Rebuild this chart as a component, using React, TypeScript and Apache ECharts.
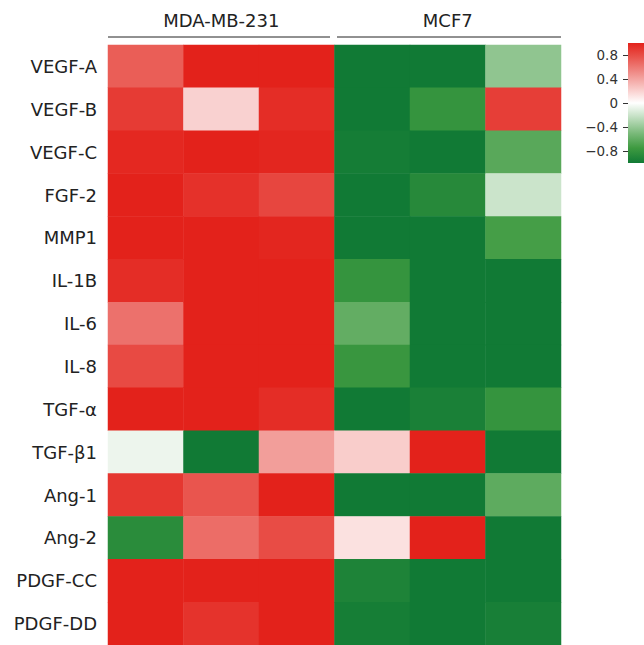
import React, { useEffect, useRef } from "react";
import * as echarts from "echarts";

const genes = ["VEGF-A", "VEGF-B", "VEGF-C", "FGF-2", "MMP1", "IL-1B", "IL-6", "IL-8", "TGF-α", "TGF-β1", "Ang-1", "Ang-2", "PDGF-CC", "PDGF-DD"];
const samples = ["MDA1", "MDA2", "MDA3", "MCF1", "MCF2", "MCF3"];
const groups = ["MDA-MB-231", "MCF7"];
const legendTicks = [-0.8, -0.4, 0, 0.4, 0.8];

// values per gene row, columns: MDA-MB-231 x3, MCF7 x3
const VEGF_A = [0.72, 1.0, 1.0, -1.0, -1.0, -0.42];
const VEGF_B = [0.88, 0.2, 0.95, -1.0, -0.8, 0.87];
const VEGF_C = [0.97, 1.0, 0.98, -0.98, -1.0, -0.64];
const FGF_2 = [1.0, 0.93, 0.83, -1.0, -0.88, -0.2];
const MMP1 = [1.0, 1.0, 0.98, -1.0, -1.0, -0.72];
const IL_1B = [0.95, 1.0, 1.0, -0.8, -1.0, -1.0];
const IL_6 = [0.63, 1.0, 1.0, -0.6, -1.0, -1.0];
const IL_8 = [0.81, 1.0, 1.0, -0.78, -1.0, -1.0];
const TGF_A = [1.0, 1.0, 0.95, -1.0, -0.95, -0.8];
const TGF_B1 = [-0.07, -1.0, 0.43, 0.22, 1.0, -1.0];
const ANG_1 = [0.9, 0.76, 1.0, -1.0, -1.0, -0.62];
const ANG_2 = [-0.86, 0.65, 0.8, 0.13, 1.0, -1.0];
const PDGF_CC = [1.0, 1.0, 1.0, -0.93, -1.0, -1.0];
const PDGF_DD = [1.0, 0.92, 1.0, -0.97, -1.0, -0.96];

const rows = [VEGF_A, VEGF_B, VEGF_C, FGF_2, MMP1, IL_1B, IL_6, IL_8, TGF_A, TGF_B1, ANG_1, ANG_2, PDGF_CC, PDGF_DD];

// colour scale from -1 (green) to 1 (red)
const scaleColors = ["#117A35", "#3E9A40", "#7BBA7B", "#BEDDBE", "#FFFFFF", "#F8C6C4", "#F08E8A", "#E95750", "#E3221B"];

const FONT = "DejaVu Sans";

export default function App() {
  const ref = useRef<HTMLDivElement>(null);
  useEffect(() => {
    if (!ref.current) return;
    const chart = echarts.init(ref.current, null, { renderer: "svg" });
    const data: number[][] = [];
    rows.forEach((r, yi) => r.forEach((v, xi) => data.push([xi, yi, v])));
    const n = scaleColors.length - 1;
    const gradStops = scaleColors
      .slice()
      .reverse()
      .map((c, i) => ({ offset: i / n, color: c }));
    chart.setOption({
      animation: false,
      backgroundColor: "#ffffff",
      textStyle: { fontFamily: FONT },
      grid: [
        { left: 108, top: 45, width: 453, height: 600 },
        { left: 628, top: 43, width: 16, height: 120 },
      ],
      xAxis: [
        { type: "category", data: samples, gridIndex: 0, show: false },
        {
          type: "category",
          data: groups,
          gridIndex: 0,
          position: "top",
          axisLine: { show: false },
          axisTick: { show: false },
          splitLine: { show: false },
          axisLabel: { color: "#222", fontSize: 18, fontFamily: FONT, margin: 16 },
        },
        { type: "value", gridIndex: 1, show: false, min: 0, max: 1 },
      ],
      yAxis: [
        {
          type: "category",
          data: genes,
          gridIndex: 0,
          inverse: true,
          axisLine: { show: false },
          axisTick: { show: false },
          splitLine: { show: false },
          axisLabel: { color: "#222", fontSize: 18, fontFamily: FONT, margin: 11 },
        },
        {
          type: "value",
          gridIndex: 1,
          min: -1,
          max: 1,
          position: "left",
          offset: 3,
          axisLine: { show: false },
          splitLine: { show: false },
          axisTick: { show: true, length: 5, lineStyle: { color: "#333" }, customValues: legendTicks },
          axisLabel: {
            color: "#333",
            fontSize: 13.5,
            fontFamily: FONT,
            margin: 7,
            customValues: legendTicks,
            formatter: (v: number) => (v < 0 ? "\u2212" + Math.abs(v) : String(v)),
          },
        },
      ],
      visualMap: {
        show: false,
        type: "continuous",
        min: -1,
        max: 1,
        seriesIndex: 0,
        inRange: { color: scaleColors },
      },
      graphic: [
        { type: "line", shape: { x1: 108, y1: 37, x2: 330, y2: 37 }, style: { stroke: "#222", lineWidth: 1 } },
        { type: "line", shape: { x1: 337, y1: 37, x2: 561, y2: 37 }, style: { stroke: "#222", lineWidth: 1 } },
        {
          type: "rect",
          shape: { x: 628, y: 43, width: 16, height: 120 },
          style: {
            fill: new echarts.graphic.LinearGradient(0, 0, 0, 1, gradStops),
          },
        },
      ],
      series: [
        {
          type: "heatmap",
          xAxisIndex: 0,
          yAxisIndex: 0,
          data,
          itemStyle: { borderWidth: 0 },
          emphasis: { disabled: true },
        },
      ],
    });
    return () => chart.dispose();
  }, []);
  return <div ref={ref} style={{ position: "absolute", left: 0, top: 0, width: 644, height: 645 }} />;
}
